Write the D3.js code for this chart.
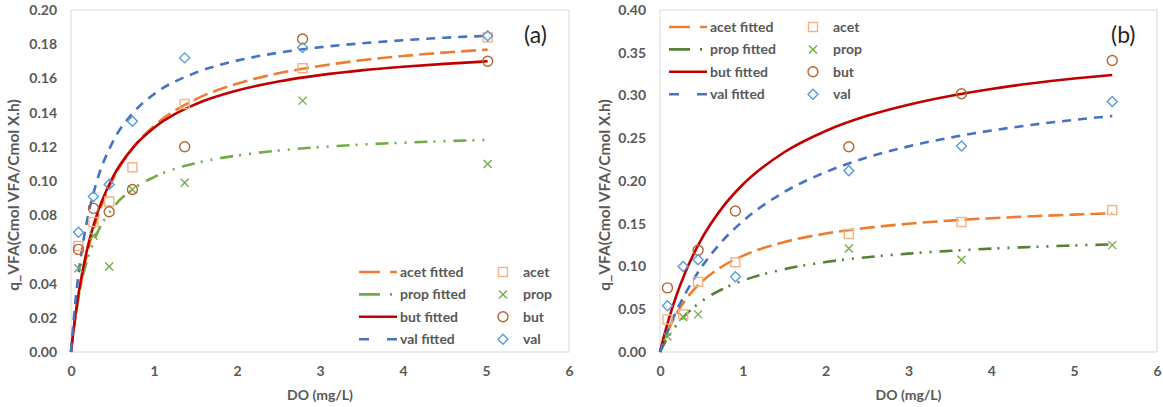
<!DOCTYPE html>
<html>
<head>
<meta charset="utf-8">
<script src="https://cdn.jsdelivr.net/npm/d3@7"></script>
<style>
  body { margin: 0; background: #fff; }
  svg text { font-family: Lato, "Open Sans", sans-serif; }
</style>
</head>
<body>
<div id="chart"></div>
<script>
/* Measured points, panel (a) */
const doA   = [0.09, 0.27, 0.46, 0.74, 1.37, 2.79, 5.02];
const acetA = [0.062, 0.076, 0.088, 0.108, 0.145, 0.166, 0.184];
const propA = [0.049, 0.068, 0.050, 0.095, 0.099, 0.147, 0.110];
const butA  = [0.060, 0.084, 0.082, 0.095, 0.120, 0.183, 0.170];
const valA  = [0.070, 0.091, 0.098, 0.135, 0.172, 0.178, 0.185];

/* Fitted curves, panel (a) */
const fitXA    = [0, 0.05, 0.1, 0.2, 0.3, 0.5, 0.75, 1, 1.5, 2, 2.5, 3, 3.5, 4, 4.5, 5.02];
const acetFitA = [0, 0.0189, 0.0345, 0.0585, 0.0762, 0.1005, 0.1196, 0.1322, 0.1477, 0.1569, 0.1630, 0.1673, 0.1706, 0.1731, 0.1751, 0.1768];
const propFitA = [0, 0.0198, 0.0345, 0.0546, 0.0678, 0.0840, 0.0954, 0.1023, 0.1104, 0.1149, 0.1178, 0.1198, 0.1213, 0.1224, 0.1233, 0.1240];
const butFitA  = [0, 0.0204, 0.0367, 0.0612, 0.0786, 0.1019, 0.1197, 0.1311, 0.1449, 0.1529, 0.1582, 0.1619, 0.1647, 0.1668, 0.1685, 0.1700];
const valFitA  = [0, 0.0280, 0.0490, 0.0784, 0.0980, 0.1225, 0.1400, 0.1508, 0.1633, 0.1704, 0.1750, 0.1782, 0.1805, 0.1823, 0.1838, 0.1849];

/* Measured points, panel (b) */
const doB   = [0.09, 0.28, 0.46, 0.91, 2.28, 3.64, 5.46];
const acetB = [0.038, 0.044, 0.082, 0.105, 0.138, 0.152, 0.166];
const propB = [0.018, 0.041, 0.044, null, 0.121, 0.108, 0.125];
const butB  = [0.075, null, 0.119, 0.165, 0.240, 0.302, 0.341];
const valB  = [0.054, 0.100, 0.108, 0.088, 0.212, 0.241, 0.293];

/* Fitted curves, panel (b) */
const fitXB    = [0, 0.05, 0.1, 0.2, 0.3, 0.5, 0.75, 1, 1.5, 2, 2.5, 3, 3.5, 4, 4.5, 5, 5.46];
const acetFitB = [0, 0.0138, 0.0257, 0.0450, 0.0600, 0.0818, 0.1000, 0.1125, 0.1286, 0.1385, 0.1452, 0.1500, 0.1537, 0.1565, 0.1588, 0.1607, 0.1622];
const propFitB = [0, 0.0095, 0.0178, 0.0316, 0.0426, 0.0592, 0.0734, 0.0835, 0.0968, 0.1052, 0.1109, 0.1151, 0.1183, 0.1209, 0.1229, 0.1246, 0.1259];
const butFitB  = [0, 0.0192, 0.0365, 0.0667, 0.0919, 0.1319, 0.1686, 0.1959, 0.2336, 0.2585, 0.2762, 0.2893, 0.2995, 0.3077, 0.3143, 0.3198, 0.3240];
const valFitB  = [0, 0.0135, 0.0259, 0.0481, 0.0673, 0.0990, 0.1295, 0.1530, 0.1871, 0.2104, 0.2275, 0.2405, 0.2507, 0.2590, 0.2658, 0.2715, 0.2760];

const xTicks  = [0, 1, 2, 3, 4, 5, 6];
const yTicksA = d3.range(0, 0.2001, 0.02);
const yTicksB = d3.range(0, 0.4001, 0.05);

const fitNames   = ["acet fitted", "prop fitted", "but fitted", "val fitted"];
const pointNames = ["acet", "prop", "but", "val"];

const width = 1163, height = 407;
const svg = d3.select("#chart").append("svg")
    .attr("width", width).attr("height", height)
    .attr("viewBox", [0, 0, width, height]);

// line styles for the fitted series
const fitStyle = (green) => [
  {color: "#ED7D31", dash: "15,6"},
  {color: green,     dash: "13,6,2,8,2,8"},
  {color: "#C00000", dash: null},
  {color: "#4472C4", dash: "9,7"}
];
const markerStyle = [
  {type: "square", color: "#F4B183"},
  {type: "x",      color: "#70AD47"},
  {type: "circle", color: "#B5652F"},
  {type: "diamond",color: "#5B9BD5"}
];

function drawMarker(g, type, color) {
  if (type === "square") {
    g.append("rect").attr("x", -4.5).attr("y", -4.5).attr("width", 9).attr("height", 9);
  } else if (type === "circle") {
    g.append("circle").attr("r", 5);
  } else if (type === "diamond") {
    g.append("path").attr("d", "M0,-5L5,0L0,5L-5,0Z");
  } else {
    g.append("path").attr("d", "M-4,-4L4,4M-4,4L4,-4");
  }
  g.selectAll("*").attr("fill", "none").attr("stroke", color).attr("stroke-width", 1.4);
}

function panel(cfg) {
  const x = d3.scaleLinear().domain([0, 6]).range([cfg.left, cfg.right]);
  const y = d3.scaleLinear().domain([0, cfg.yMax]).range([352, 10]);

  // plot area frame
  svg.append("rect")
    .attr("x", cfg.left).attr("y", 10)
    .attr("width", cfg.right - cfg.left).attr("height", 342)
    .attr("fill", "none").attr("stroke", "#D9D9D9");

  const xAxis = svg.append("g")
    .attr("transform", `translate(0,352)`)
    .call(d3.axisBottom(x).tickValues(xTicks).tickSize(0).tickPadding(14).tickFormat(d3.format("d")));
  const yAxis = svg.append("g")
    .attr("transform", `translate(${cfg.left},0)`)
    .call(d3.axisLeft(y).tickValues(cfg.yTicks).tickSize(0).tickPadding(14).tickFormat(d3.format(".2f")));
  [xAxis, yAxis].forEach(a => {
    a.select(".domain").remove();
    a.selectAll("text")
      .style("font-family", "Lato, sans-serif")
      .style("font-size", "14px")
      .style("font-weight", "bold")
      .attr("fill", "#595959");
  });

  svg.append("text")
    .attr("x", (cfg.left + cfg.right) / 2).attr("y", 400)
    .attr("text-anchor", "middle")
    .style("font-size", "14px").style("font-weight", "bold")
    .attr("fill", "#595959")
    .text("DO (mg/L)");

  svg.append("text")
    .attr("transform", `translate(${cfg.titleX},195) rotate(-90)`)
    .attr("text-anchor", "middle")
    .attr("dy", "0.35em")
    .style("font-size", "15.5px").style("font-weight", "bold")
    .attr("fill", "#595959")
    .text("q_VFA(Cmol VFA/Cmol X.h)");

  // fitted lines
  const styles = fitStyle(cfg.green);
  const line = d3.line()
    .curve(d3.curveMonotoneX)
    .x((d, i) => x(cfg.fitX[i]))
    .y(d => y(d));
  cfg.fits.forEach((vals, k) => {
    svg.append("path")
      .attr("d", line(vals))
      .attr("fill", "none")
      .attr("stroke", styles[k].color)
      .attr("stroke-width", 2.6)
      .attr("stroke-dasharray", styles[k].dash);
  });

  // measured points
  cfg.points.forEach((vals, k) => {
    vals.forEach((v, i) => {
      if (v == null) return;
      const g = svg.append("g").attr("transform", `translate(${x(cfg.pointX[i])},${y(v)})`);
      drawMarker(g, markerStyle[k].type, markerStyle[k].color);
    });
  });

  // legend
  const lg = svg.append("g").attr("transform", `translate(${cfg.legX},${cfg.legY})`);
  fitNames.forEach((name, k) => {
    const row = lg.append("g").attr("transform", `translate(0,${k * 22.4})`);
    row.append("line")
      .attr("x1", 0).attr("x2", 38)
      .attr("stroke", styles[k].color)
      .attr("stroke-width", 2.6)
      .attr("stroke-dasharray", k === 0 ? "21,10" : k === 1 ? "21,10,2,20" : k === 3 ? "10,18" : null);
    row.append("text")
      .attr("x", 41).attr("dy", "0.35em")
      .style("font-size", "14px").style("font-weight", "bold")
      .attr("fill", "#595959")
      .text(name);
    const m = row.append("g").attr("transform", "translate(144,0)");
    drawMarker(m, markerStyle[k].type, markerStyle[k].color);
    row.append("text")
      .attr("x", 164).attr("dy", "0.35em")
      .style("font-size", "14px").style("font-weight", "bold")
      .attr("fill", "#595959")
      .text(pointNames[k]);
  });

  svg.append("text")
    .attr("x", cfg.labelX).attr("y", 43)
    .style("font-size", "23px")
    .attr("fill", "#262626")
    .text(cfg.label);
}

panel({
  left: 71, right: 569, yMax: 0.2, yTicks: yTicksA, titleX: 14,
  fitX: fitXA, fits: [acetFitA, propFitA, butFitA, valFitA],
  pointX: doA, points: [acetA, propA, butA, valA],
  green: "#70AD47", legX: 359, legY: 272, labelX: 524, label: "(a)"
});
panel({
  left: 660, right: 1157, yMax: 0.4, yTicks: yTicksB, titleX: 605,
  fitX: fitXB, fits: [acetFitB, propFitB, butFitB, valFitB],
  pointX: doB, points: [acetB, propB, butB, valB],
  green: "#548235", legX: 669, legY: 27, labelX: 1111, label: "(b)"
});
</script>
</body>
</html>
